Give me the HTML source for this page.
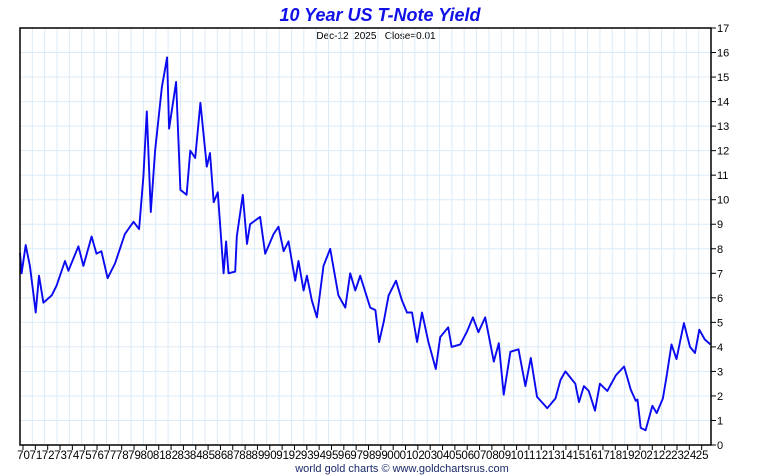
<!DOCTYPE html>
<html><head><meta charset="utf-8">
<style>
html,body{margin:0;padding:0;background:#fff;}
svg{display:block;font-family:"Liberation Sans",Arial,sans-serif;}
</style></head>
<body>
<svg id="chart" width="760" height="475" viewBox="0 0 760 475">
<text x="380" y="21" text-anchor="middle" font-size="18" font-weight="bold" font-style="italic" fill="#1010e8">10 Year US T-Note Yield</text>
<text x="376" y="39" text-anchor="middle" font-size="10" fill="#000" xml:space="preserve">Dec-12  2025   Close=0.01</text>
<g id="grid"></g>
<g id="series"></g>
<rect x="20" y="28" width="691" height="417" fill="none" stroke="#000" stroke-width="1.5"/>
<g id="xaxis"></g>
<g id="yaxis"></g>
<text x="402" y="472" text-anchor="middle" font-size="11" fill="#1a2a6a">world gold charts © www.goldchartsrus.com</text>
</svg>
<script>
const years = [70,71,72,73,74,75,76,77,78,79,80,81,82,83,84,85,86,87,88,89,90,91,92,93,94,95,96,97,98,99,0,1,2,3,4,5,6,7,8,9,10,11,12,13,14,15,16,17,18,19,20,21,22,23,24,25];
const yTicks = [0,1,2,3,4,5,6,7,8,9,10,11,12,13,14,15,16,17];
const dates = [1970,1970.13,1970.46,1970.8,1971.08,1971.27,1971.54,1971.9,1972.57,1972.97,1973.65,1973.92,1974.73,1975.14,1975.8,1976.2,1976.6,1977.1,1977.7,1978.5,1979.2,1979.65,1980.0,1980.28,1980.6,1980.95,1981.5,1981.92,1982.08,1982.65,1982.84,1983.0,1983.5,1983.8,1984.2,1984.62,1985.14,1985.4,1985.7,1986.03,1986.5,1986.7,1986.9,1987.44,1987.57,1988.06,1988.4,1988.65,1989.46,1989.87,1990.55,1990.95,1991.36,1991.76,1992.3,1992.57,1992.98,1993.25,1993.65,1994.06,1994.6,1995.14,1995.8,1996.36,1996.76,1997.17,1997.57,1998.38,1998.8,1999.1,1999.47,1999.87,2000.47,2000.95,2001.36,2001.77,2002.18,2002.58,2003.1,2003.7,2004.05,2004.7,2004.98,2005.68,2006.2,2006.7,2007.15,2007.7,2008.4,2008.8,2009.2,2009.74,2010.4,2010.96,2011.4,2011.9,2012.73,2013.4,2013.8,2014.2,2015.0,2015.3,2015.7,2016.1,2016.6,2017.0,2017.6,2018.3,2018.96,2019.5,2019.9,2020.04,2020.3,2020.7,2021.25,2021.6,2022.1,2022.4,2022.8,2023.2,2023.8,2024.3,2024.7,2025.05,2025.5,2025.95];
const yields = [7.83,7.0,8.15,7.3,6.2,5.4,6.9,5.8,6.1,6.5,7.5,7.1,8.1,7.3,8.5,7.8,7.9,6.8,7.4,8.6,9.1,8.8,10.95,13.6,9.5,12.0,14.6,15.8,12.9,14.8,12.45,10.4,10.2,12.0,11.7,13.95,11.35,11.9,9.9,10.3,7.0,8.3,7.0,7.07,8.5,10.2,8.2,9.0,9.3,7.8,8.6,8.9,7.9,8.3,6.7,7.5,6.3,6.9,5.9,5.2,7.3,8.0,6.1,5.6,7.0,6.3,6.9,5.6,5.5,4.2,5.0,6.1,6.7,5.9,5.4,5.4,4.2,5.4,4.2,3.1,4.4,4.8,4.0,4.1,4.6,5.2,4.6,5.2,3.4,4.15,2.05,3.8,3.9,2.4,3.55,1.97,1.5,1.9,2.65,3.0,2.5,1.75,2.4,2.2,1.4,2.5,2.2,2.85,3.2,2.25,1.8,1.85,0.7,0.6,1.6,1.3,1.9,2.8,4.1,3.5,4.97,4.0,3.75,4.7,4.3,4.1];

const NS="http://www.w3.org/2000/svg";
const L=20,R=711,T=28,B=445;
const xScale=t=>L+(t-1970)*(R-L)/56;
const yScale=v=>B-v*(B-T)/17;
function mk(tag,attrs,parent){const e=document.createElementNS(NS,tag);for(const k in attrs)e.setAttribute(k,attrs[k]);parent.appendChild(e);return e;}
const grid=document.getElementById('grid'),xa=document.getElementById('xaxis'),ya=document.getElementById('yaxis'),ser=document.getElementById('series');
years.forEach((y,i)=>{
  const gx=xScale(1971+i);
  if(gx<R-1){
    const g=mk('line',{x1:gx,x2:gx,y1:T,y2:B,stroke:'#dcebf7','stroke-width':1},grid);
    
    
  }
  const tk=mk('line',{x1:xScale(1970+i)+3,x2:xScale(1970+i)+3,y1:B,y2:B+5,stroke:'#000','stroke-width':1},xa);
  
  
  const lb=mk('text',{x:xScale(1970+i)+3.5,y:B+14,'text-anchor':'middle','font-size':'11.5',fill:'#000'},xa);
  lb.textContent=String(y).padStart(2,'0');
  
  
});
yTicks.forEach(v=>{
  const yy=yScale(v);
  if(v>0&&v<17){
    const g=mk('line',{x1:L,x2:R,y1:yy,y2:yy,stroke:'#dcebf7','stroke-width':1},grid);
    
    
  }
  const tk=mk('line',{x1:R,x2:R+5,y1:yy,y2:yy,stroke:'#000','stroke-width':1},ya);
  
  
  const lb=mk('text',{x:R+6,y:yy+4,'font-size':'11',fill:'#000'},ya);
  lb.textContent=v;
  
  
});
const pts=dates.map((d,i)=>xScale(d).toFixed(1)+','+yScale(yields[i]).toFixed(1)).join(' ');
const line=mk('polyline',{points:pts,fill:'none',stroke:'#0a0af0','stroke-width':1.9,'stroke-linejoin':'round'},ser);


</script>
</body></html>
